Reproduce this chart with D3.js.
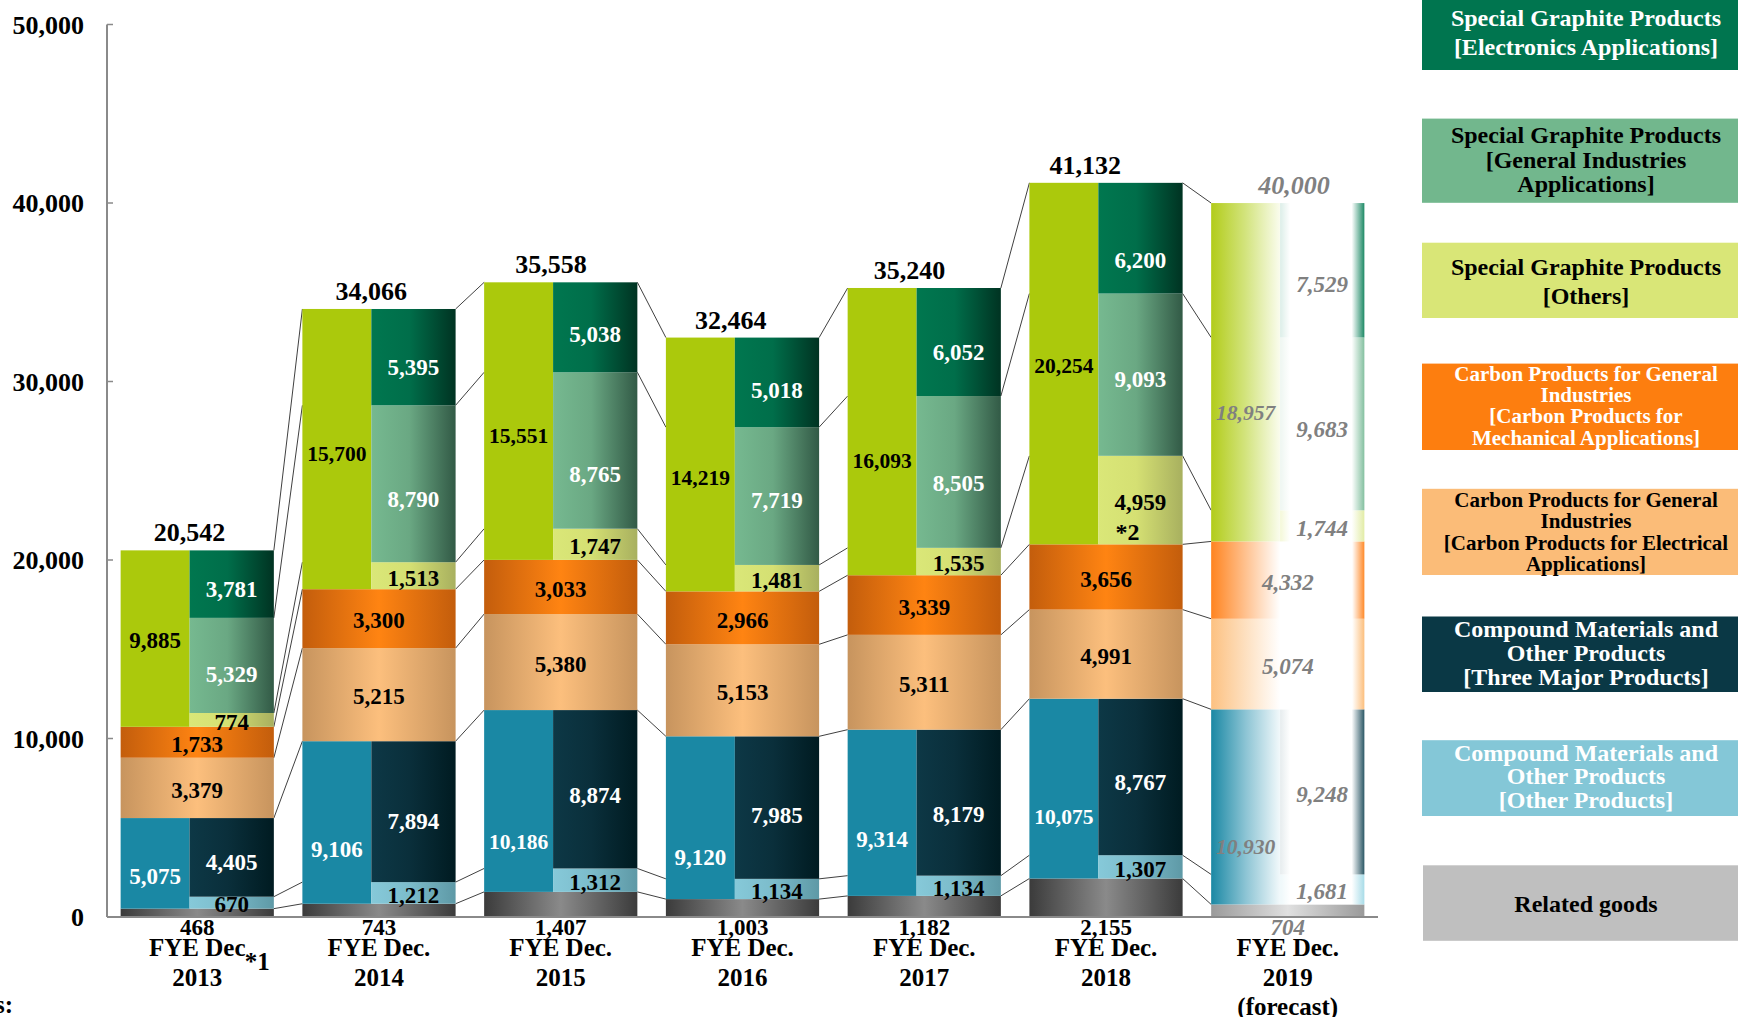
<!DOCTYPE html>
<html><head><meta charset="utf-8">
<script src="https://cdn.jsdelivr.net/npm/d3@7"></script>
<style>
html,body{margin:0;padding:0;background:#fff;overflow:hidden;}
svg{display:block;font-family:"Liberation Serif","Times New Roman",serif;font-weight:bold;}
</style></head><body>
<svg id="chart" width="1738" height="1017"></svg>
<script>
// ---------------- DATA ----------------
const categories = ["2013", "2014", "2015", "2016", "2017", "2018", "2019"];
const categoryLabels = [
  ["FYE Dec", "2013"], ["FYE Dec.", "2014"], ["FYE Dec.", "2015"], ["FYE Dec.", "2016"],
  ["FYE Dec.", "2017"], ["FYE Dec.", "2018"], ["FYE Dec.", "2019", "(forecast)"]
];
const isForecast = [false, false, false, false, false, false, true];

const relatedGoods        = [468, 743, 1407, 1003, 1182, 2155, 704];
const compoundTotal       = [5075, 9106, 10186, 9120, 9314, 10075, 10930];
const compoundOther       = [670, 1212, 1312, 1134, 1134, 1307, 1681];
const compoundThreeMajor  = [4405, 7894, 8874, 7985, 8179, 8767, 9248];
const carbonElectrical    = [3379, 5215, 5380, 5153, 5311, 4991, 5074];
const carbonMechanical    = [1733, 3300, 3033, 2966, 3339, 3656, 4332];
const graphiteTotal       = [9885, 15700, 15551, 14219, 16093, 20254, 18957];
const graphiteOthers      = [774, 1513, 1747, 1481, 1535, 4959, 1744];
const graphiteGeneral     = [5329, 8790, 8765, 7719, 8505, 9093, 9683];
const graphiteElectronics = [3781, 5395, 5038, 5018, 6052, 6200, 7529];
const totals              = [20542, 34066, 35558, 32464, 35240, 41132, 40000];

const yTicks = [0, 10000, 20000, 30000, 40000, 50000];

const legendLabels = [
  ["Special Graphite Products", "[Electronics Applications]"],
  ["Special Graphite Products", "[General Industries", "Applications]"],
  ["Special Graphite Products", "[Others]"],
  ["Carbon Products for General", "Industries", "[Carbon Products for", "Mechanical Applications]"],
  ["Carbon Products for General", "Industries", "[Carbon Products for Electrical", "Applications]"],
  ["Compound Materials and", "Other Products", "[Three Major Products]"],
  ["Compound Materials and", "Other Products", "[Other Products]"],
  ["Related goods"]
];

// ---------------- STYLE / LAYOUT ----------------
const svg = d3.select("#chart");
const defs = svg.append("defs");

const x = d3.scaleBand().domain(categories).range([107, 1378]).paddingInner(0.157).paddingOuter(0.075);
const y = d3.scaleLinear().domain([0, 50000]).range([917, 24.5]);
const bw = x.bandwidth();
const leftW = bw * 0.45;
const rightW = bw - leftW;
const fmt = d3.format(",");

// label placement (fraction of the segment height, measured from its bottom)
const labelFracStyle = {
  graphTotal:  [0.5, 0.49, 0.455, 0.455, 0.405, 0.5, 0.385],
  compTotal:   [0.385, 0.348, 0.289, 0.271, 0.353, 0.353, 0.305],
  electronics: [0.46, 0.42, 0.45, 0.44, 0.42, 0.32, 0.41],
  general:     [0.43, 0.417, 0.36, 0.487, 0.44, 0.485, 0.48],
  threeMajor:  [0.46, 0.45, 0.478, 0.463, 0.438, 0.477, 0.5]
};
const totalLabelDx = [0, 0, -2, -4, -7, -13, 14];

// gradients
const grad = {
  electronics: [[0,'#00774f'],[0.45,'#006e4a'],[1,'#003322']],
  general:     [[0,'#76b990'],[0.45,'#6aa883'],[1,'#325a46']],
  others:      [[0,'#dae778'],[0.45,'#d5e073'],[1,'#a8b05f']],
  mechanical:  [[0,'#c35d0c'],[0.5,'#ff8412'],[1,'#c35d0c']],
  electrical:  [[0,'#c7945e'],[0.5,'#fcbf7d'],[1,'#c7945e']],
  threeMajor:  [[0,'#0d3846'],[0.45,'#0a2f3b'],[1,'#001b21']],
  compOther:   [[0,'#86c9d9'],[0.45,'#7cbccb'],[1,'#5e99a6']],
  related:     [[0,'#3b3b3b'],[0.5,'#8a8a8a'],[1,'#3b3b3b']],
  graphTotal:  [[0,'#abc90c'],[1,'#abc90c']],
  compTotal:   [[0,'#1a88a4'],[1,'#1a88a4']],
  f_graphTotal:  [[0,'#b2cc1a'],[0.5,'#d3e47e'],[1,'#fafcee']],
  f_compTotal:   [[0,'#1a88a4'],[0.5,'#8cc4d4'],[1,'#f2f9fb']],
  f_mechanical:  [[0,'#ff8420'],[0.45,'#ffffff'],[0.92,'#ffffff'],[1,'#ff8a2a']],
  f_electrical:  [[0,'#fcc181'],[0.45,'#ffffff'],[0.92,'#ffffff'],[1,'#fcbf7d']],
  f_related:     [[0,'#9a9a9a'],[0.5,'#e0e0e0'],[1,'#9a9a9a']],
  f_electronics: [[0,'#dceee8'],[0.12,'#ffffff'],[0.85,'#ffffff'],[1,'#1e8a66']],
  f_general:     [[0,'#eef6f1'],[0.12,'#ffffff'],[0.85,'#ffffff'],[1,'#84c0a0']],
  f_others:      [[0,'#f4f8d8'],[0.12,'#ffffff'],[0.85,'#ffffff'],[1,'#e2eca6']],
  f_threeMajor:  [[0,'#e6ecee'],[0.12,'#ffffff'],[0.85,'#ffffff'],[1,'#2c5866']],
  f_compOther:   [[0,'#eef8fa'],[0.12,'#ffffff'],[0.85,'#ffffff'],[1,'#a8dce8']]
};
Object.entries(grad).forEach(([id, stops]) => {
  const g = defs.append("linearGradient").attr("id", "g_" + id).attr("x1", 0).attr("x2", 1).attr("y1", 0).attr("y2", 0);
  stops.forEach(s => g.append("stop").attr("offset", s[0]).attr("stop-color", s[1]));
});

// ---------------- BUILD SEGMENTS ----------------
const segments = [];
const rightLevels = [];
categories.forEach((c, i) => {
  const R = relatedGoods[i];
  const CT = compoundTotal[i], CO = compoundOther[i], C3 = compoundThreeMajor[i];
  const E = carbonElectrical[i], M = carbonMechanical[i];
  const GT = graphiteTotal[i], GO = graphiteOthers[i], GG = graphiteGeneral[i], GE = graphiteElectronics[i];
  const baseCarbon = R + CT;
  const baseGraph = baseCarbon + E + M;
  const add = (key, side, y0, v, color) => {
    const lf = labelFracStyle[key] ? labelFracStyle[key][i] : 0.5;
    segments.push({i, c, key, side, y0, y1: y0 + v, v, color, labelFrac: lf});
  };
  add("related", "full", 0, R, "#000");
  add("compTotal", "left", R, CT, "#fff");
  add("compOther", "right", R, CO, "#000");
  add("threeMajor", "right", R + CO, C3, "#fff");
  add("electrical", "full", baseCarbon, E, "#000");
  add("mechanical", "full", baseCarbon + E, M, "#000");
  add("graphTotal", "left", baseGraph, GT, "#000");
  add("others", "right", baseGraph, GO, "#000");
  add("general", "right", baseGraph + GO, GG, "#fff");
  add("electronics", "right", baseGraph + GO + GG, GE, "#fff");
  rightLevels.push([R, R + CO, R + CO + C3, baseCarbon + E, baseCarbon + E + M,
                    baseGraph + GO, baseGraph + GO + GG, baseGraph + GO + GG + GE]);
});

const segX = d => d.side === "right" ? x(d.c) + leftW : x(d.c);
const segW = d => d.side === "full" ? bw : (d.side === "left" ? leftW : rightW);

// ---------------- AXES ----------------
const axisG = svg.append("g");
axisG.append("line").attr("x1", 107).attr("x2", 107).attr("y1", y(50000)).attr("y2", y(0))
  .attr("stroke", "#8a8a8a").attr("stroke-width", 2);
axisG.selectAll(".tk").data(yTicks).enter().append("line")
  .attr("x1", 107).attr("x2", 113).attr("y1", d => y(d)).attr("y2", d => y(d))
  .attr("stroke", "#8a8a8a").attr("stroke-width", 1.5);
axisG.selectAll(".tl").data(yTicks).enter().append("text")
  .attr("x", 84).attr("y", d => y(d) + 9).attr("text-anchor", "end")
  .attr("font-size", 26).attr("fill", "#000").text(d => fmt(d));

// ---------------- CONNECTORS ----------------
const conG = svg.append("g");
for (let i = 0; i < categories.length - 1; i++) {
  rightLevels[i].forEach((lv, k) => {
    conG.append("line")
      .attr("x1", x(categories[i]) + bw).attr("y1", y(lv))
      .attr("x2", x(categories[i + 1])).attr("y2", y(rightLevels[i + 1][k]))
      .attr("stroke", "#2a2a2a").attr("stroke-width", 0.9);
  });
}

// ---------------- BARS ----------------
svg.append("g").selectAll("rect").data(segments).enter().append("rect")
  .attr("x", segX).attr("width", segW)
  .attr("y", d => y(d.y1)).attr("height", d => y(d.y0) - y(d.y1))
  .attr("fill", d => "url(#g_" + (isForecast[d.i] ? "f_" : "") + d.key + ")");

svg.append("line").attr("x1", 107).attr("x2", 1378).attr("y1", y(0)).attr("y2", y(0))
  .attr("stroke", "#8a8a8a").attr("stroke-width", 2);

// ---------------- SEGMENT LABELS ----------------
const lab = svg.append("g");
segments.forEach(d => {
  const fc = isForecast[d.i];
  const txt = fmt(d.v);
  const tx = segX(d) + segW(d) / 2;
  const fs = txt.length > 5 ? 21.5 : 23;
  let ty;
  if (d.key === "related") ty = y(0) + 18;
  else ty = y(d.y0 + (d.y1 - d.y0) * d.labelFrac) + fs * 0.34 + 2;
  lab.append("text").attr("x", tx).attr("y", ty)
    .attr("text-anchor", "middle").attr("font-size", fs)
    .attr("font-style", fc ? "italic" : "normal")
    .attr("fill", fc ? "#808080" : d.color).text(txt);
});

// "*2" note in 2018 others segment
{
  const s = segments.find(d => d.i === 5 && d.key === "others");
  const cx = segX(s) + segW(s) / 2;
  lab.append("text").attr("x", cx - 25).attr("y", y(s.y0) - 4).attr("font-size", 24).attr("fill", "#000").text("*2");
}

// ---------------- TOTALS ----------------
svg.append("g").selectAll("text").data(categories).enter().append("text")
  .attr("x", (c, i) => x(c) + leftW + totalLabelDx[i])
  .attr("y", (c, i) => y(Math.max(totals[i], rightLevels[i][7])) - 9)
  .attr("text-anchor", "middle").attr("font-size", 26)
  .attr("font-style", (c, i) => isForecast[i] ? "italic" : "normal")
  .attr("fill", (c, i) => isForecast[i] ? "#808080" : "#000")
  .text((c, i) => fmt(totals[i]));

// ---------------- CATEGORY LABELS ----------------
const catG = svg.append("g");
categories.forEach((c, i) => {
  const t = catG.append("text").attr("text-anchor", "middle").attr("font-size", 25).attr("fill", "#000");
  categoryLabels[i].forEach((line, k) => {
    t.append("tspan").attr("x", x(c) + bw / 2).attr("y", 956 + k * 29.5).text(line);
  });
});
catG.append("text").attr("x", x(categories[0]) + 124).attr("y", 970).attr("font-size", 25).attr("fill", "#000").text("*1");
svg.append("text").attr("x", 13).attr("y", 1013).attr("text-anchor", "end").attr("font-size", 25).attr("fill", "#000").text("Notes:");

// ---------------- LEGEND ----------------
const legendColors = ['#00754f', '#72b78d', '#d9e677', '#fd7e0f', '#fbbc78', '#0a3845', '#84c7d7', '#bfbfbf'];
const legendText = ['#fff', '#000', '#000', '#fff', '#000', '#fff', '#fff', '#000'];
// [top, bottom, first line centre, line height, font size]
const legendLayout = [
  [0, 70, 17.7, 29, 24], [118.6, 202.8, 135.2, 24.4, 24], [242.7, 318, 267.1, 29, 24],
  [363.6, 450, 373.5, 21.4, 21], [488.8, 575, 499.9, 21.4, 21], [616.5, 692, 628.4, 24, 24],
  [740.2, 816, 752.4, 23.8, 24], [865.3, 940.8, 903.6, 0, 24]
];
const lg = svg.append("g");
legendLabels.forEach((lines, k) => {
  const [t0, t1, c0, lh, fs] = legendLayout[k];
  lg.append("rect").attr("x", k === 7 ? 1423 : 1422).attr("y", t0).attr("width", 330).attr("height", t1 - t0).attr("fill", legendColors[k]);
  const tx = lg.append("text").attr("text-anchor", "middle").attr("font-size", fs).attr("fill", legendText[k]);
  lines.forEach((ln, j) => {
    tx.append("tspan").attr("x", 1586).attr("y", c0 + j * lh + fs * 0.34).text(ln);
  });
});
</script>
</body></html>
